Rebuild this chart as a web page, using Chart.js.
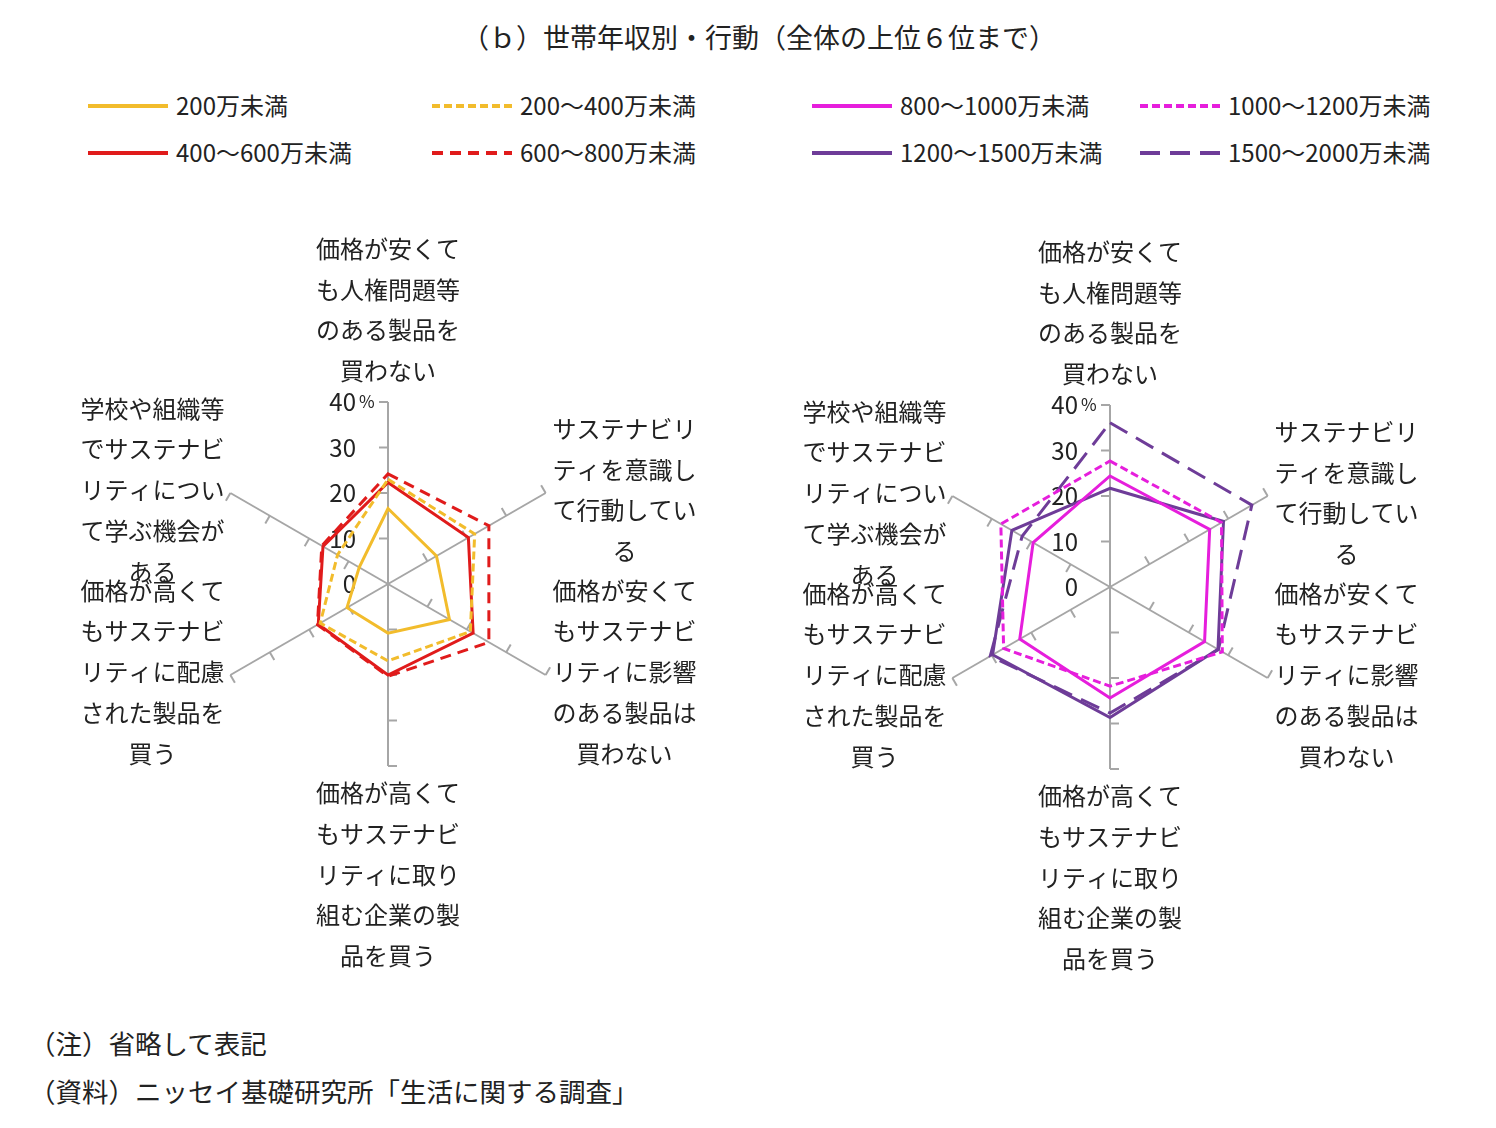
<!DOCTYPE html>
<html lang="ja">
<head>
<meta charset="utf-8">
<script src="https://cdn.jsdelivr.net/npm/chart.js@4.4.1/dist/chart.umd.min.js"></script>
<style>
  body { margin: 0; background: #fff; width: 1496px; height: 1128px; position: relative; overflow: hidden;
         font-family: "Noto Sans CJK JP", "Noto Sans", sans-serif; color: #222; }
  .abs { position: absolute; white-space: nowrap; }
  #title { left: 462px; top: 20px; font-size: 27px; line-height: 34px; }
  .lg-line { position: absolute; }
  .lg-text { position: absolute; font-size: 24px; line-height: 30px; }
  .note { left: 29px; font-size: 26.5px; line-height: 32px; }
  canvas.radar { position: absolute; top: 200px; }
</style>
</head>
<body>
<div id="title" class="abs">（ｂ）世帯年収別・行動（全体の上位６位まで）</div>
<div id="legend"></div>
<canvas id="radarLow" class="radar" width="740" height="800" style="left:0px"></canvas>
<canvas id="radarHigh" class="radar" width="740" height="800" style="left:740px"></canvas>
<div class="abs note" style="top:1027px">（注）省略して表記</div>
<div class="abs note" style="top:1075px">（資料）ニッセイ基礎研究所「生活に関する調査」</div>

<script>
// 項目（6字ずつに折り返し）
const categories = [
  ["価格が安くて", "も人権問題等", "のある製品を", "買わない"],
  ["サステナビリ", "ティを意識し", "て行動してい", "る"],
  ["価格が安くて", "もサステナビ", "リティに影響", "のある製品は", "買わない"],
  ["価格が高くて", "もサステナビ", "リティに取り", "組む企業の製", "品を買う"],
  ["価格が高くて", "もサステナビ", "リティに配慮", "された製品を", "買う"],
  ["学校や組織等", "でサステナビ", "リティについ", "て学ぶ機会が", "ある"]
];
const tickValues = [0, 10, 20, 30, 40];

// 世帯年収別（%）
const inc200 = [16.6, 12.3, 15.6, 10.8, 10.4, 7.3];
const inc200_400 = [23.0, 22.0, 20.9, 16.9, 17.2, 12.8];
const inc400_600 = [22.3, 20.4, 21.6, 20.0, 17.7, 16.5];
const inc600_800 = [24.2, 25.6, 25.6, 20.3, 17.9, 16.8];
const inc800_1000 = [24.4, 25.3, 24.0, 24.4, 22.9, 19.5];
const inc1000_1200 = [27.7, 28.3, 28.5, 21.8, 27.0, 27.7];
const inc1200_1500 = [21.7, 28.8, 27.4, 28.7, 29.8, 24.9];
const inc1500_2000 = [36.1, 36.0, 27.5, 27.7, 30.4, 22.3];

const YELLOW = "#F2BC2C", RED = "#E01B1B", MAGENTA = "#E61EDC", PURPLE = "#6E3C98";
const AXIS_COLOR = "#A6A6A6";
const TEXT_COLOR = "#222";
const FONT = '"Noto Sans CJK JP", "Noto Sans", sans-serif';

const seriesLow = [
  { label: "200万未満", data: inc200, color: YELLOW, dash: [] },
  { label: "200～400万未満", data: inc200_400, color: YELLOW, dash: [8, 4] },
  { label: "400～600万未満", data: inc400_600, color: RED, dash: [] },
  { label: "600～800万未満", data: inc600_800, color: RED, dash: [11, 7] }
];
const seriesHigh = [
  { label: "800～1000万未満", data: inc800_1000, color: MAGENTA, dash: [] },
  { label: "1000～1200万未満", data: inc1000_1200, color: MAGENTA, dash: [8, 4] },
  { label: "1200～1500万未満", data: inc1200_1500, color: PURPLE, dash: [] },
  { label: "1500～2000万未満", data: inc1500_2000, color: PURPLE, dash: [20, 10] }
];

// 凡例（2行×4列）
const legendItems = [
  [seriesLow[0], 88, 106], [seriesLow[1], 432, 106], [seriesHigh[0], 812, 106], [seriesHigh[1], 1140, 106],
  [seriesLow[2], 88, 153], [seriesLow[3], 432, 153], [seriesHigh[2], 812, 153], [seriesHigh[3], 1140, 153]
];
const legendBox = document.getElementById("legend");
legendItems.forEach(([s, x, y]) => {
  const c = document.createElement("canvas");
  c.width = 80; c.height = 10;
  c.className = "lg-line";
  c.style.left = x + "px"; c.style.top = (y - 5) + "px";
  const g = c.getContext("2d");
  g.strokeStyle = s.color; g.lineWidth = 4; g.setLineDash(s.dash);
  g.beginPath(); g.moveTo(0, 5); g.lineTo(80, 5); g.stroke();
  legendBox.appendChild(c);
  const t = document.createElement("div");
  t.className = "lg-text";
  t.textContent = s.label;
  t.style.left = (x + 88) + "px"; t.style.top = (y - 16) + "px";
  legendBox.appendChild(t);
});

// 目盛り・項目名の描画
const radarDecor = {
  id: "radarDecor",
  beforeDatasetsDraw(chart) {
    const s = chart.scales.r;
    const ctx = chart.ctx;
    ctx.save();
    // 各軸の目盛り線
    ctx.strokeStyle = AXIS_COLOR;
    ctx.lineWidth = 2;
    for (let i = 0; i < chart.data.labels.length; i++) {
      tickValues.forEach((v) => {
        if (v === 0) return;
        const p = s.getPointPositionForValue(i, v);
        const tx = Math.sin(p.angle), ty = -Math.cos(p.angle);
        ctx.beginPath();
        ctx.moveTo(p.x, p.y);
        ctx.lineTo(p.x + tx * 9, p.y + ty * 9);
        ctx.stroke();
      });
    }
    // 目盛りラベル
    ctx.fillStyle = TEXT_COLOR;
    ctx.textBaseline = "middle";
    tickValues.forEach((v) => {
      const y = s.yCenter - s.getDistanceFromCenterForValue(v);
      ctx.font = "24px " + FONT;
      ctx.textAlign = "right";
      ctx.fillText(String(v), s.xCenter - 32, y);
      if (v === 40) {
        ctx.font = "17px " + FONT;
        ctx.textAlign = "left";
        ctx.fillText("%", s.xCenter - 29, y);
      }
    });
    ctx.restore();
  },
  afterDraw(chart) {
    const s = chart.scales.r;
    const ctx = chart.ctx;
    const lh = 40.7;
    ctx.save();
    ctx.fillStyle = TEXT_COLOR;
    ctx.font = "24px " + FONT;
    ctx.textAlign = "center";
    ctx.textBaseline = "middle";
    chart.data.labels.forEach((lines, i) => {
      const p = s.getPointPositionForValue(i, s.max);
      const n = lines.length;
      let cx = p.x, firstY;
      if (i === 0) {
        firstY = p.y - 31 - (n - 1) * lh;
      } else if (i === 3) {
        firstY = p.y + 27;
      } else {
        cx = p.x + (p.x > s.xCenter ? 79 : -78);
        firstY = p.y - 3 - (n - 1) * lh / 2;
      }
      lines.forEach((ln, k) => ctx.fillText(ln, cx, firstY + k * lh));
    });
    ctx.restore();
  }
};

function makeRadar(id, series, padding) {
  const ctx = document.getElementById(id).getContext("2d");
  return new Chart(ctx, {
    type: "radar",
    data: {
      labels: categories,
      datasets: series.map((s) => ({
        label: s.label,
        data: s.data,
        borderColor: s.color,
        backgroundColor: "transparent",
        borderWidth: 3,
        borderDash: s.dash,
        fill: false,
        pointRadius: 0,
        pointHoverRadius: 0,
        tension: 0
      }))
    },
    options: {
      responsive: false,
      animation: false,
      layout: { padding: padding },
      scales: {
        r: {
          min: 0,
          max: 40,
          ticks: { display: false, stepSize: 10 },
          grid: { display: false },
          angleLines: { display: true, color: AXIS_COLOR, lineWidth: 2 },
          pointLabels: { display: false }
        }
      },
      plugins: {
        legend: { display: false },
        tooltip: { enabled: false }
      }
    },
    plugins: [radarDecor]
  });
}

makeRadar("radarLow", seriesLow, { left: 206, right: 170, top: 202, bottom: 234 });
makeRadar("radarHigh", seriesHigh, { left: 188, right: 188, top: 205, bottom: 231 });
</script>
</body>
</html>
